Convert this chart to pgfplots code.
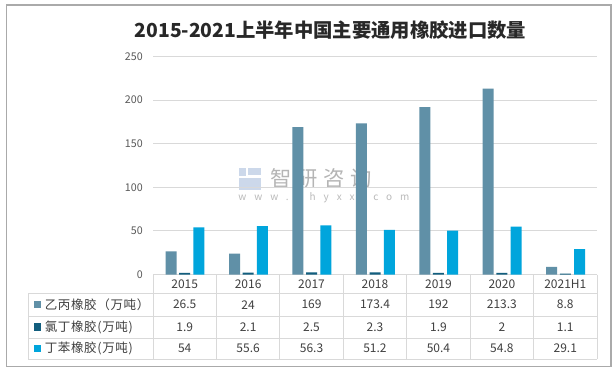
\documentclass[border=0pt]{standalone}
\usepackage{fontspec}
\setmainfont{Noto Sans CJK SC}
\usepackage{pgfplots}
\pgfplotsset{compat=1.18}
\definecolor{sA}{RGB}{96,144,167}
\definecolor{sB}{RGB}{18,94,126}
\definecolor{sC}{RGB}{0,165,220}
\definecolor{gridc}{RGB}{217,217,217}
\definecolor{txt}{RGB}{64,64,64}
\definecolor{tick}{RGB}{89,89,89}
\definecolor{frame}{RGB}{170,170,170}
\definecolor{ttl}{RGB}{40,40,40}
\definecolor{wm}{RGB}{150,150,150}
\definecolor{wmb}{RGB}{170,190,220}
\begin{document}
\begin{tikzpicture}[x=0.75pt,y=0.75pt]
\path[use as bounding box, fill=white] (0,0) rectangle (616,371);
\draw[frame, line width=1pt] (6.5,4.5) rectangle (611,366);
\node[text=ttl, font=\fontsize{14.5pt}{17pt}\selectfont\bfseries] at (330.5,341) {2015-2021上半年中国主要通用橡胶进口数量};
% watermark
\node[text=wm, opacity=0.7, font=\fontsize{16pt}{18pt}\selectfont\addfontfeature{LetterSpace=25}, anchor=west, inner sep=0pt] at (270,193) {智研咨询};
\node[text=wm, opacity=0.65, font=\fontsize{7.5pt}{9pt}\selectfont\addfontfeature{LetterSpace=80}, anchor=west, inner sep=0pt] at (238,173) {www.chyxx.com};
\fill[wmb, opacity=0.6] (239,203) rectangle (246,195);
\fill[wmb, opacity=0.6] (248,203) rectangle (261,196);
\fill[wmb, opacity=0.6] (239,193) rectangle (261,181);
\begin{axis}[
  at={(114.75pt,72.375pt)}, anchor=south west,
  scale only axis, width=333pt, height=163.5pt,
  xmin=-0.5, xmax=6.5, ymin=0, ymax=250,
  ytick={0,50,100,150,200,250}, xtick=\empty,
  ymajorgrids, grid style={gridc, line width=0.75pt},
  axis line style={draw=none}, major tick length=0pt,
  /pgf/number format/assume math mode=true,
  yticklabel style={font=\fontsize{8pt}{9pt}\selectfont, text=tick, anchor=east, inner sep=0pt, xshift=-7.5pt},
  ybar, bar width=0.1735,
  clip=false,
]
\addplot[fill=sA, draw=none, bar shift=-0.215] coordinates {(0,26.5) (1,24) (2,169) (3,173.4) (4,192) (5,213.3) (6,8.8)};
\addplot[fill=sB, draw=none, bar shift=0] coordinates {(0,1.9) (1,2.1) (2,2.5) (3,2.3) (4,1.9) (5,2) (6,1.1)};
\addplot[fill=sC, draw=none, bar shift=0.225] coordinates {(0,54) (1,55.6) (2,56.3) (3,51.2) (4,50.4) (5,54.8) (6,29.1)};
\end{axis}
% table lines
\begin{scope}[draw=gridc, line width=0.75pt]
\draw (28,77.7) -- (597,77.7);
\draw (28,55) -- (597,55);
\draw (28,33) -- (597,33);
\draw (28,12) -- (597,12);
\draw (28,77.7) -- (28,12);
\foreach \i in {0,...,7} {\draw (153+63.43*\i,96.5) -- (153+63.43*\i,12);}
\end{scope}
% header
\foreach \lab [count=\i from 0] in {2015,2016,2017,2018,2019,2020,2021H1}
  \node[text=txt, font=\fontsize{9pt}{10pt}\selectfont] at (184.7+63.43*\i,87) {\lab};
\foreach \v [count=\i from 0] in {26.5,24,169,173.4,192,213.3,8.8}
  \node[text=txt, font=\fontsize{9pt}{10pt}\selectfont] at (184.7+63.43*\i,66.3) {\v};
\foreach \v [count=\i from 0] in {1.9,2.1,2.5,2.3,1.9,2,1.1}
  \node[text=txt, font=\fontsize{9pt}{10pt}\selectfont] at (184.7+63.43*\i,44) {\v};
\foreach \v [count=\i from 0] in {54,55.6,56.3,51.2,50.4,54.8,29.1}
  \node[text=txt, font=\fontsize{9pt}{10pt}\selectfont] at (184.7+63.43*\i,22.5) {\v};
% legend
\fill[sA] (33.5,62.8) rectangle (41,70.3);
\fill[sB] (33.5,40.5) rectangle (41,48);
\fill[sC] (33.5,19) rectangle (41,26.5);
\node[text=txt, font=\fontsize{9.4pt}{10pt}\selectfont\addfontfeature{LetterSpace=5}, anchor=west, inner sep=0pt] at (44.5,66.3) {乙丙橡胶（万吨）};
\node[text=txt, font=\fontsize{9.4pt}{10pt}\selectfont\addfontfeature{LetterSpace=5}, anchor=west, inner sep=0pt] at (44.5,44) {氯丁橡胶(万吨)};
\node[text=txt, font=\fontsize{9.4pt}{10pt}\selectfont\addfontfeature{LetterSpace=5}, anchor=west, inner sep=0pt] at (44.5,22.5) {丁苯橡胶(万吨)};
\end{tikzpicture}
\end{document}
